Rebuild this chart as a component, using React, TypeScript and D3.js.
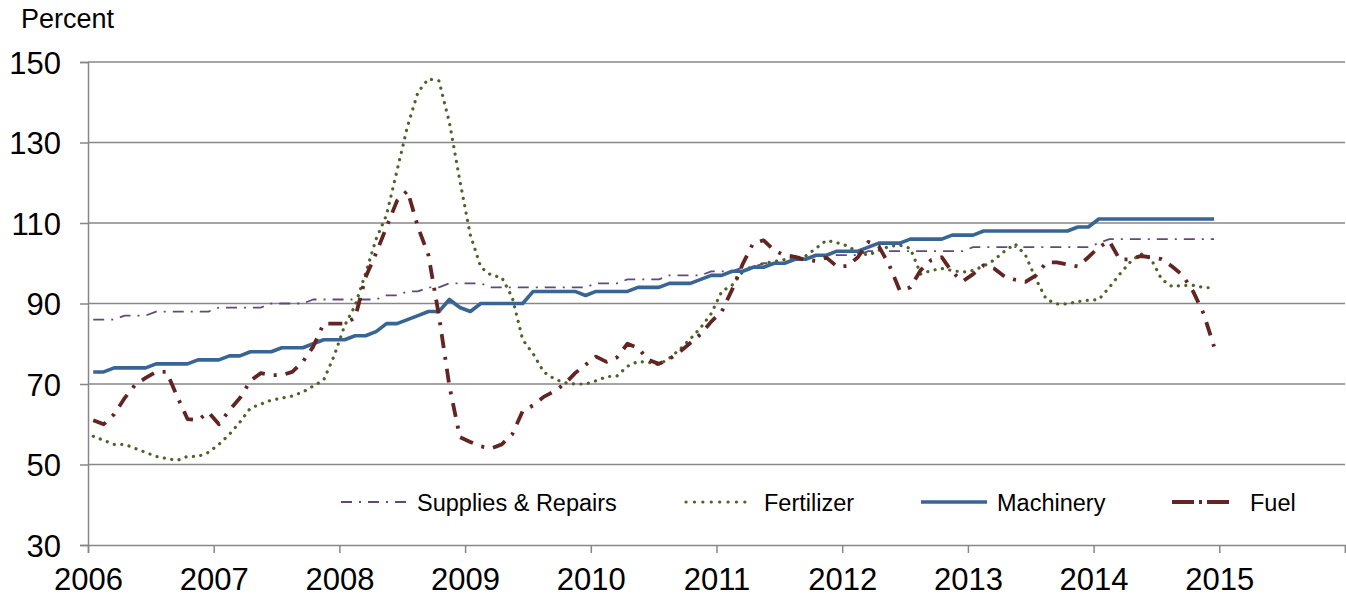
import React, { useEffect, useRef } from "react"
import * as d3 from "d3"

// monthly index values, Jan 2006 - Dec 2014
const supplies = [
	86, 86, 86, 87, 87, 87, 88, 88, 88, 88, 88, 88,
	89, 89, 89, 89, 89, 90, 90, 90, 90, 91, 91, 91,
	91, 91, 91, 91, 92, 92, 93, 93, 94, 94, 95, 95,
	95, 95, 94, 94, 94, 94, 94, 94, 94, 94, 94, 94,
	95, 95, 95, 96, 96, 96, 96, 97, 97, 97, 97, 98,
	98, 98, 99, 99, 100, 100, 100, 101, 101, 102, 102, 102,
	102, 102, 103, 103, 103, 103, 103, 103, 103, 103, 103, 103,
	104, 104, 104, 104, 104, 104, 104, 104, 104, 104, 104, 104,
	105, 106, 106, 106, 106, 106, 106, 106, 106, 106, 106, 106,
]

const fertilizer = [
	57, 56, 55, 55, 54, 53, 52, 51.5, 51, 52, 52, 53,
	55, 57.5, 60.5, 64, 65, 66, 66.5, 67, 68, 69.5, 71, 77,
	84.5, 89.5, 97.5, 106, 112, 123, 134, 142.5, 145.8, 145.3, 135, 120.5,
	107, 99, 97, 96.5, 91.5, 81, 77.5, 73, 71.3, 70.3, 70, 70,
	70.8, 71.8, 72, 74.4, 75.6, 75.4, 74.8, 76.4, 78.6, 81.2, 84, 87.5,
	93, 94.6, 97.9, 99, 100, 100.4, 100.9, 101.3, 101.8, 103.7, 105.7, 105.1,
	104.3, 102.7, 102, 103.2, 104.2, 104.5, 103.7, 97.3, 98.2, 98.7, 98.2, 97.8,
	98.2, 99.3, 100.8, 103, 104.8, 102, 96, 91, 89.9, 89.9, 90.5, 90.8,
	91, 94, 97.3, 100.3, 102.4, 101, 96, 94.2, 94.5, 94.5, 94, 93.8,
]

const machinery = [
	73, 73, 74, 74, 74, 74, 75, 75, 75, 75, 76, 76,
	76, 77, 77, 78, 78, 78, 79, 79, 79, 80, 81, 81,
	81, 82, 82, 83, 85, 85, 86, 87, 88, 88, 91, 89,
	88, 90, 90, 90, 90, 90, 93, 93, 93, 93, 93, 92,
	93, 93, 93, 93, 94, 94, 94, 95, 95, 95, 96, 97,
	97, 98, 98, 99, 99, 100, 100, 101, 101, 102, 102, 103,
	103, 103, 104, 105, 105, 105, 106, 106, 106, 106, 107, 107,
	107, 108, 108, 108, 108, 108, 108, 108, 108, 108, 109, 109,
	111, 111, 111, 111, 111, 111, 111, 111, 111, 111, 111, 111,
]

const fuel = [
	61, 60, 62.5, 66.5, 69.8, 71.5, 73, 73, 67, 61.3, 61, 63,
	60, 63.5, 66.5, 70.8, 72.7, 72.2, 72.2, 73, 75.5, 79.3, 85, 85,
	85, 86.5, 96.5, 102.5, 109, 115.5, 118, 109, 102, 87, 69.5, 56.8,
	55.6, 54.5, 54, 55, 57.5, 63.3, 64.7, 66.8, 68.2, 70, 72.7, 74.8,
	76.8, 75.5, 76.6, 80, 79, 76, 75, 76.2, 78, 80.2, 82.4, 85.5,
	88, 93.5, 99.8, 105, 105.7, 103.2, 102, 101.6, 100.8, 100.6, 101.4, 99.2,
	99.3, 101.5, 105.3, 104.2, 99.5, 93.2, 94, 98.3, 100.8, 101.5, 97.8, 95.5,
	97.3, 99.5, 98.7, 96.7, 95.9, 95.4, 97, 100.2, 100.2, 99.7, 99.2, 101.5,
	104, 105.5, 100.9, 101, 101.8, 101.5, 101, 99.2, 97, 93, 87.5, 79.3,
]

const startYear = 2006
const years = [2006, 2007, 2008, 2009, 2010, 2011, 2012, 2013, 2014, 2015, 2016]
const yTicks = [30, 50, 70, 90, 110, 130, 150]

const seriesNames = ["Supplies & Repairs", "Fertilizer", "Machinery", "Fuel"]

const FONT = "'Liberation Sans', Arial, sans-serif"

export default function App() {
	const ref = useRef<SVGSVGElement | null>(null)

	useEffect(() => {
		const left = 88
		const right = 1345
		const top = 62
		const bottom = 545

		const svg = d3.select(ref.current)
		svg.selectAll("*").remove()

		const x = d3.scaleLinear().domain([2006, 2016]).range([left, right])
		const y = d3.scaleLinear().domain([30, 150]).range([bottom, top])

		const gridColor = "#878787"

		// gridlines
		svg.append("g")
			.selectAll("line")
			.data(yTicks.slice(1))
			.enter()
			.append("line")
			.attr("x1", left)
			.attr("x2", right)
			.attr("y1", d => y(d))
			.attr("y2", d => y(d))
			.attr("stroke", gridColor)
			.attr("stroke-width", 1.5)

		// y axis
		const yAxis = d3.axisLeft(y).tickValues(yTicks).tickSize(8).tickFormat(d => String(d))
		const gy = svg.append("g").attr("transform", `translate(${left},0)`).call(yAxis)
		gy.select(".domain").attr("stroke", gridColor).attr("stroke-width", 1.5)
		gy.selectAll(".tick line").attr("stroke", gridColor).attr("stroke-width", 1.5)
		gy.selectAll(".tick text")
			.attr("x", -27)
			.attr("dy", "0.36em")
			.attr("fill", "#000")
			.style("font-family", FONT)
			.style("font-size", "31px")

		// x axis
		const xAxis = d3.axisBottom(x).tickValues(years).tickSize(8).tickFormat(d => (d === 2016 ? "" : String(d)))
		const gx = svg.append("g").attr("transform", `translate(0,${bottom})`).call(xAxis)
		gx.select(".domain").attr("stroke", gridColor).attr("stroke-width", 1.5)
		gx.selectAll(".tick line").attr("stroke", gridColor).attr("stroke-width", 1.5)
		gx.selectAll(".tick text")
			.attr("y", 23)
			.attr("dy", "0.71em")
			.attr("fill", "#000")
			.style("font-family", FONT)
			.style("font-size", "31px")

		svg.append("text")
			.attr("x", 21)
			.attr("y", 28)
			.text("Percent")
			.style("font-family", FONT)
			.style("font-size", "27px")

		const line = d3
			.line<number>()
			.x((d, i) => x(startYear + (i + 0.5) / 12))
			.y(d => y(d))

		const styles = [
			{ data: supplies, color: "#604A7B", width: 1.8, dash: "11 7 2 7", cap: "butt" },
			{ data: fertilizer, color: "#4F6228", width: 3.2, dash: "0.1 7.4", cap: "round" },
			{ data: machinery, color: "#386594", width: 3.6, dash: null, cap: "butt" },
			{ data: fuel, color: "#632523", width: 3.8, dash: "14 9 3 9", cap: "butt" },
		]

		styles.forEach(s => {
			svg.append("path")
				.datum(s.data)
				.attr("d", line)
				.attr("fill", "none")
				.attr("stroke", s.color)
				.attr("stroke-width", s.width)
				.attr("stroke-dasharray", s.dash)
				.attr("stroke-linecap", s.cap)
				.attr("stroke-linejoin", "round")
		})

		// legend
		const legendY = 502
		const legendPos = [
			{ x1: 341, x2: 407, tx: 417 },
			{ x1: 686, x2: 753, tx: 764 },
			{ x1: 921, x2: 987, tx: 997 },
			{ x1: 1172, x2: 1231, tx: 1250 },
		]
		const legendDash = ["11 7 2 7", "0.1 8.3", null, "22 5 3 5"]

		seriesNames.forEach((name, i) => {
			const s = styles[i]
			const p = legendPos[i]
			svg.append("line")
				.attr("x1", p.x1)
				.attr("x2", p.x2)
				.attr("y1", legendY)
				.attr("y2", legendY)
				.attr("stroke", s.color)
				.attr("stroke-width", s.width)
				.attr("stroke-dasharray", legendDash[i])
				.attr("stroke-linecap", s.cap)
			svg.append("text")
				.attr("x", p.tx)
				.attr("y", legendY + 9)
				.text(name)
				.style("font-family", FONT)
				.style("font-size", "23.5px")
		})
	}, [])

	return (
		<svg
			ref={ref}
			width={1346}
			height={598}
			style={{ position: "absolute", left: 0, top: 0, background: "#fff" }}
		/>
	)
}
